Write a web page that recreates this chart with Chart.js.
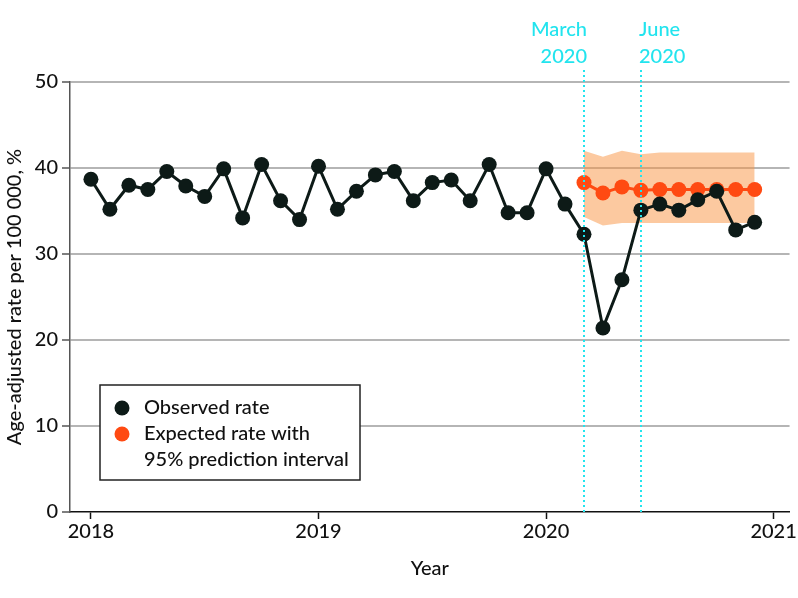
<!DOCTYPE html>
<html>
<head>
<meta charset="utf-8">
<script src="https://cdn.jsdelivr.net/npm/chart.js@4.4.0/dist/chart.umd.min.js"></script>
<style>
  html, body { margin: 0; padding: 0; background: #fff; }
  #wrap { width: 798px; height: 598px; }
</style>
</head>
<body>
<div id="wrap"><canvas id="myChart" width="798" height="598"></canvas></div>
<script>
// data
const startYear = 2018
const yearTicks = [2018, 2019, 2020, 2021]
const observed = [
  38.7, 35.2, 38.0, 37.5, 39.6, 37.9, 36.7, 39.9, 34.2, 40.4, 36.2, 34.0,  // 2018
  40.2, 35.2, 37.3, 39.2, 39.6, 36.2, 38.3, 38.6, 36.2, 40.4, 34.8, 34.8,  // 2019
  39.9, 35.8, 32.3, 21.4, 27.0, 35.1, 35.8, 35.1, 36.3, 37.3, 32.8, 33.7   // 2020
]
const expectedStart = 26 // March 2020 (month index from Jan 2018)
const expected = [38.3, 37.1, 37.8, 37.4, 37.5, 37.5, 37.5, 37.5, 37.5, 37.5]
const expUpper = [42.0, 41.3, 42.0, 41.6, 41.8, 41.8, 41.8, 41.8, 41.8, 41.8]
const expLower = [34.3, 33.3, 33.6, 33.6, 33.6, 33.6, 33.6, 33.6, 33.6, 33.6]
const markers = [
  { month: 26, lines: ["March", "2020"], align: "right" },
  { month: 29, lines: ["June", "2020"], align: "left" }
]
const legendItems = [
  { color: "#0d1a17", lines: ["Observed rate"] },
  { color: "#ff4a12", lines: ["Expected rate with", "95% prediction interval"] }
]

const FONT = "Lato"
const BLACK = "#0d1a17"
const ORANGE = "#ff4a12"
const CYAN = "#22e4ee"

const toX = i => startYear + i / 12
const obsPts = observed.map((v, i) => ({ x: toX(i), y: v }))
const expPts = expected.map((v, i) => ({ x: toX(expectedStart + i), y: v }))
const upPts = expUpper.map((v, i) => ({ x: toX(expectedStart + i), y: v }))
const loPts = expLower.map((v, i) => ({ x: toX(expectedStart + i), y: v }))

// vertical dotted lines + labels, and the boxed legend
const extras = {
  id: "extras",
  afterDraw(chart) {
    const ctx = chart.ctx
    const xs = chart.scales.x, ys = chart.scales.y
    ctx.save()
    // markers
    ctx.strokeStyle = CYAN
    ctx.lineWidth = 2
    ctx.setLineDash([2, 3])
    ctx.fillStyle = CYAN
    ctx.font = "500 20px " + FONT
    ctx.textBaseline = "middle"
    markers.forEach(m => {
      const px = Math.round(xs.getPixelForValue(toX(m.month)))
      ctx.beginPath()
      ctx.moveTo(px, 70)
      ctx.lineTo(px, ys.getPixelForValue(0))
      ctx.stroke()
      ctx.textAlign = m.align
      const tx = m.align === "right" ? px + 3 : px - 2
      m.lines.forEach((t, k) => ctx.fillText(t, tx, 30 + k * 27))
    })
    ctx.setLineDash([])
    // legend box
    const bx = 100, by = 385, bw = 260, bh = 95
    ctx.fillStyle = "#fff"
    ctx.fillRect(bx, by, bw, bh)
    ctx.strokeStyle = "#222"
    ctx.lineWidth = 1.5
    ctx.strokeRect(bx, by, bw, bh)
    ctx.font = "500 20px " + FONT
    ctx.textAlign = "left"
    let ly = by + 23
    legendItems.forEach(it => {
      ctx.fillStyle = it.color
      ctx.beginPath()
      ctx.arc(bx + 22, ly, 7.5, 0, Math.PI * 2)
      ctx.fill()
      ctx.fillStyle = "#111"
      it.lines.forEach(t => { ctx.fillText(t, bx + 44, ly); ly += 26 })
    })
    ctx.restore()
  }
}

const txtFont = { family: FONT, size: 20, weight: 500 }

const ctx = document.getElementById("myChart").getContext("2d")
const myChart = new Chart(ctx, {
  type: "line",
  data: {
    datasets: [
      { label: "Observed rate", data: obsPts, borderColor: BLACK, backgroundColor: BLACK,
        borderWidth: 3, pointRadius: 7.5, pointBorderWidth: 0, order: 0, tension: 0 },
      { label: "Expected rate", data: expPts, borderColor: ORANGE, backgroundColor: ORANGE,
        borderWidth: 3, pointRadius: 7.5, pointBorderWidth: 0, order: 1, tension: 0 },
      { label: "upper", data: upPts, borderWidth: 0, pointRadius: 0, borderColor: "rgba(0,0,0,0)",
        backgroundColor: "rgba(249,148,66,0.5)", fill: "+1", order: 2 },
      { label: "lower", data: loPts, borderWidth: 0, pointRadius: 0, borderColor: "rgba(0,0,0,0)",
        fill: false, order: 3 }
    ]
  },
  options: {
    responsive: false,
    animation: false,
    layout: { padding: { left: 0, right: 8, top: 82, bottom: 0 } },
    plugins: { legend: { display: false }, tooltip: { enabled: false } },
    scales: {
      x: {
        type: "linear",
        min: startYear - 0.092,
        max: 2021.07,
        afterBuildTicks: s => { s.ticks = yearTicks.map(v => ({ value: v })) },
        afterFit: s => { s.height = 86 },
        ticks: { color: "#111", font: txtFont, padding: 1, callback: v => String(v) },
        grid: { drawOnChartArea: false, tickLength: 7, tickColor: "#111", tickWidth: 1.5 },
        border: { color: "#111", width: 1.5 },
        title: { display: true, text: "Year", color: "#111", font: txtFont,
          padding: { top: 0, bottom: 17 } }
      },
      y: {
        min: 0, max: 50,
        afterFit: s => { s.width = 70 },
        ticks: { stepSize: 10, color: "#111", font: txtFont, padding: 4 },
        grid: { color: c => c.tick.value === 0 ? "rgba(0,0,0,0)" : "#b5b5b5", lineWidth: 2,
          tickLength: 8, tickColor: "#555", tickWidth: 1.5 },
        border: { color: "#555", width: 1.5 },
        title: { display: true, text: "Age-adjusted rate per 100 000, %", color: "#111",
          font: txtFont, padding: { top: 3, bottom: 0 } }
      }
    }
  },
  plugins: [extras]
})
</script>
</body>
</html>
